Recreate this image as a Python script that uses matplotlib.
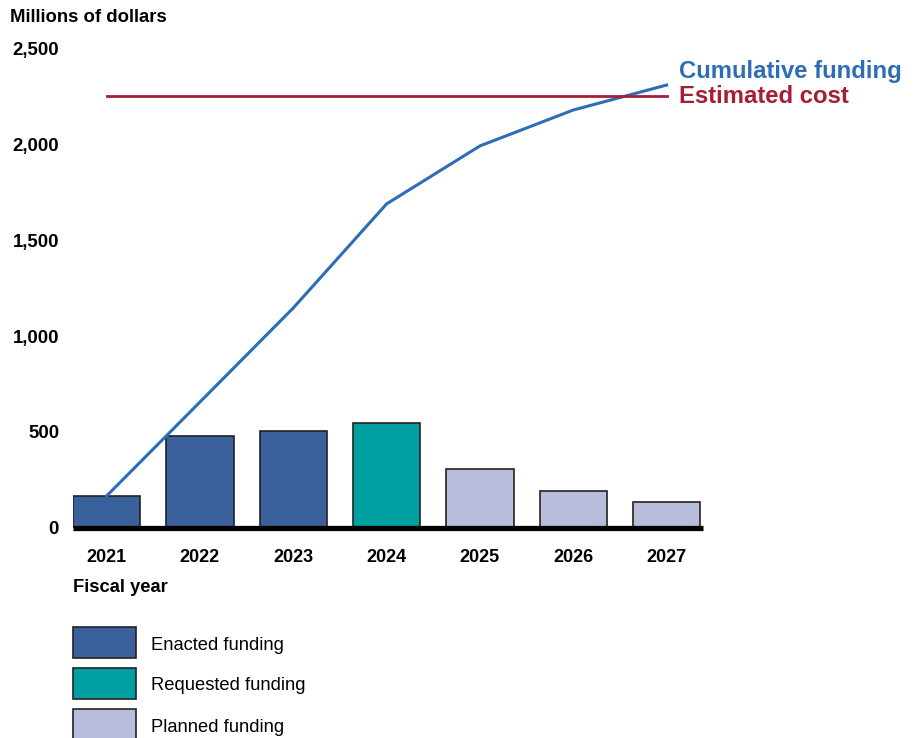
import matplotlib.pyplot as plt
from matplotlib.patches import Rectangle

plt.rcParams['font.family'] = ['Liberation Sans', 'DejaVu Sans']

years = ['2021', '2022', '2023', '2024', '2025', '2026', '2027']
funding = [167, 479, 507, 548, 305, 193, 135]
funding_type = ['Enacted', 'Enacted', 'Enacted', 'Requested', 'Planned', 'Planned', 'Planned']
cumulative = [167, 656, 1146, 1688, 1990, 2177, 2307]
estimated_cost = 2250

colors = {'Enacted': '#3a619c', 'Requested': '#00a0a2', 'Planned': '#b8bddb'}
legend_labels = ['Enacted funding', 'Requested funding', 'Planned funding']

fig = plt.figure(figsize=(9.15, 7.38), dpi=100)
ax = fig.add_axes([73 / 915, 1 - 528 / 738, 630 / 915, 480 / 738])

x = list(range(len(years)))
ax.bar(x, funding, width=0.72, color=[colors[t] for t in funding_type],
       edgecolor='#222222', linewidth=1.2, zorder=2)
ax.plot(x, cumulative, color='#2d6db5', linewidth=2.2, zorder=3)
ax.plot([x[0], x[-1]], [estimated_cost, estimated_cost], color='#a51d36', linewidth=2, zorder=3)
ax.axhline(0, color='black', linewidth=3.8, zorder=4, clip_on=False, solid_capstyle='butt')

ax.set_xlim(-0.36, 6.39)
ax.set_ylim(0, 2500)
ax.set_yticks([0, 500, 1000, 1500, 2000, 2500])
ax.set_yticklabels(['0', '500', '1,000', '1,500', '2,000', '2,500'])
ax.set_xticks(x)
ax.set_xticklabels(years)
ax.tick_params(length=0)
ax.tick_params(axis='x', pad=15, labelsize=13)
ax.tick_params(axis='y', pad=10, labelsize=13.4)
for lbl in ax.get_xticklabels() + ax.get_yticklabels():
    lbl.set_fontweight('bold')
for s in ax.spines.values():
    s.set_visible(False)

fig.text(10 / 915, 1 - 17 / 738, 'Millions of dollars', fontsize=13.3, fontweight='bold', va='center')
fig.text(73 / 915, 1 - 588 / 738, 'Fiscal year', fontsize=13.2, fontweight='bold', va='center')

ax.text(x[-1] + 0.13, 2344, 'Cumulative funding', color='#2d6db5', fontsize=17.2,
        fontweight='bold', va='baseline')
ax.text(x[-1] + 0.13, 2214, 'Estimated cost', color='#a51d36', fontsize=17.2,
        fontweight='bold', va='baseline')

# legend boxes
for i, lab in enumerate(legend_labels):
    top = 627 + i * 41
    fig.patches.append(Rectangle((73 / 915, 1 - (top + 31) / 738), 63 / 915, 31 / 738,
                                 transform=fig.transFigure, facecolor=colors[lab.split()[0]],
                                 edgecolor='#222222', linewidth=1.2))
    fig.text(151 / 915, 1 - (top + 16) / 738, lab, fontsize=13.2, va='center_baseline')

fig.savefig('out.png', dpi=100)
